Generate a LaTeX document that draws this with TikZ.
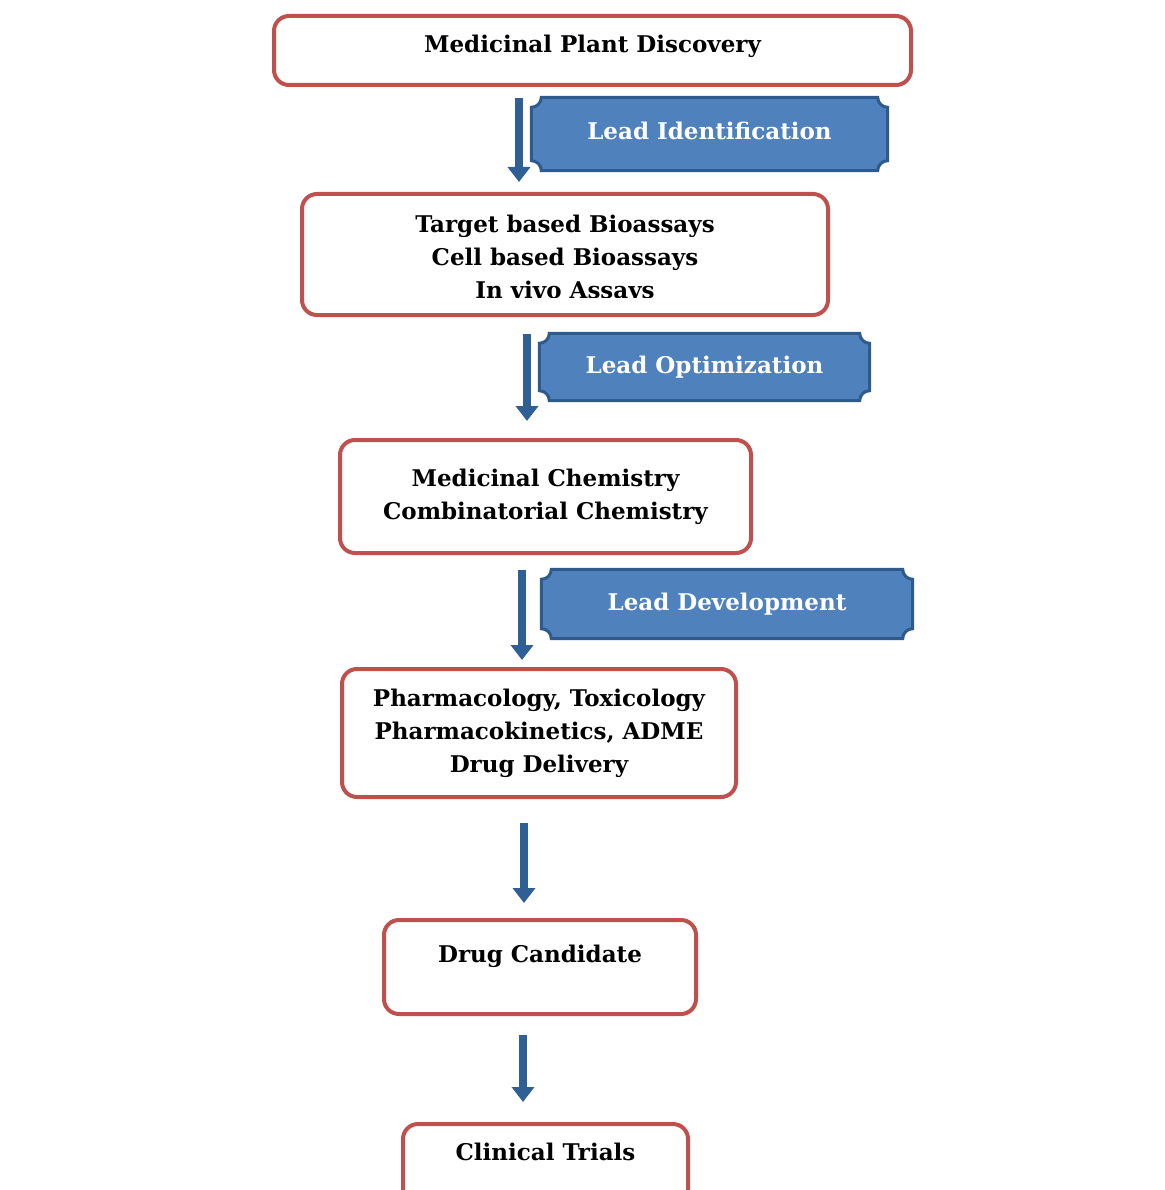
\documentclass[tikz,border=0pt]{standalone}
\usepackage{fontspec}
\setmainfont{DejaVu Serif}
\usetikzlibrary{arrows.meta, backgrounds, calc}
\definecolor{stagered}{HTML}{C0504D}
\definecolor{leadblue}{HTML}{4F81BD}
\definecolor{leadedge}{HTML}{2F5A8E}
\definecolor{flowblue}{HTML}{2E5F95}

\begin{document}
\begin{tikzpicture}[x=1pt, y=1pt, font=\fontsize{23}{33}\selectfont\bfseries,
    frame/.style={draw=stagered, line width=4pt, rounded corners=15pt},
    stage/.style={frame, fill=white, align=center, inner sep=0pt},
    lead/.style={text=white, inner sep=0pt},
    flow/.style={flowblue, line width=8pt, -{Triangle[length=15pt, width=22pt]}}]

  \useasboundingbox (0,0) rectangle (1164,-1190);

  \node[stage, minimum width=637pt, minimum height=69pt, text height=17pt, text depth=12pt] (discovery) at (592.5,-50.5) {Medicinal Plant Discovery};

  % last line of this box is cut off at its baseline
  \begin{scope}
    \clip (290,-180) rectangle (840,-297.5);
    \node[stage, draw=none, minimum width=522pt, minimum height=117pt] (assay) at (565,-254.5) {\rule{0pt}{27pt}Target based Bioassays\\Cell based Bioassays\\In vivo Assays};
  \end{scope}
  \draw[frame] (assay.south west) rectangle (assay.north east);

  \node[stage, minimum width=411pt, minimum height=113pt] (chem) at (545.5,-496.5) {Medicinal Chemistry\\Combinatorial Chemistry};
  \node[stage, minimum width=394pt, minimum height=128pt] (pharm) at (539,-733) {Pharmacology, Toxicology\\Pharmacokinetics, ADME\\Drug Delivery};
  \node[stage, minimum width=312pt, minimum height=94pt, text height=17pt, text depth=27pt] (cand) at (540,-967) {Drug Candidate};
  \node[stage, minimum width=285pt, minimum height=94pt, text height=17pt, text depth=39pt] (trials) at (545.5,-1171) {Clinical Trials};

  \node[lead, minimum width=356pt, minimum height=73pt, text height=17pt, text depth=6pt] (leadid) at (709.5,-134) {Lead Identification};
  \node[lead, minimum width=330pt, minimum height=67pt] (leadopt) at (704.5,-367) {Lead Optimization};
  \node[lead, minimum width=371pt, minimum height=69pt] (leaddev) at (727,-604) {Lead Development};

  \draw[flow] ([shift={(-73.5,-11)}]discovery.south) -- ([shift={(-46,12)}]assay.north);
  \draw[flow] ([shift={(-38,-19)}]assay.south) -- ([shift={(-18.5,17)}]chem.north);
  \draw[flow] ([shift={(-23.5,-15)}]chem.south) -- ([shift={(-17,7)}]pharm.north);
  \draw[flow] ([shift={(-15,-24)}]pharm.south) -- ([shift={(-16,15)}]cand.north);
  \draw[flow] ([shift={(-17,-19)}]cand.south) -- ([shift={(-22.5,20)}]trials.north);

  \begin{scope}[on background layer]
    \foreach \b in {leadid, leadopt, leaddev}
      \filldraw[fill=leadblue, draw=leadedge, line width=3pt]
        ($(\b.north west)+(10,0)$) -- ($(\b.north east)+(-10,0)$) arc[start angle=180, end angle=270, radius=10]
        -- ($(\b.south east)+(0,10)$) arc[start angle=90, end angle=180, radius=10]
        -- ($(\b.south west)+(10,0)$) arc[start angle=0, end angle=90, radius=10]
        -- ($(\b.north west)+(0,-10)$) arc[start angle=270, end angle=360, radius=10] -- cycle;
  \end{scope}
\end{tikzpicture}
\end{document}
